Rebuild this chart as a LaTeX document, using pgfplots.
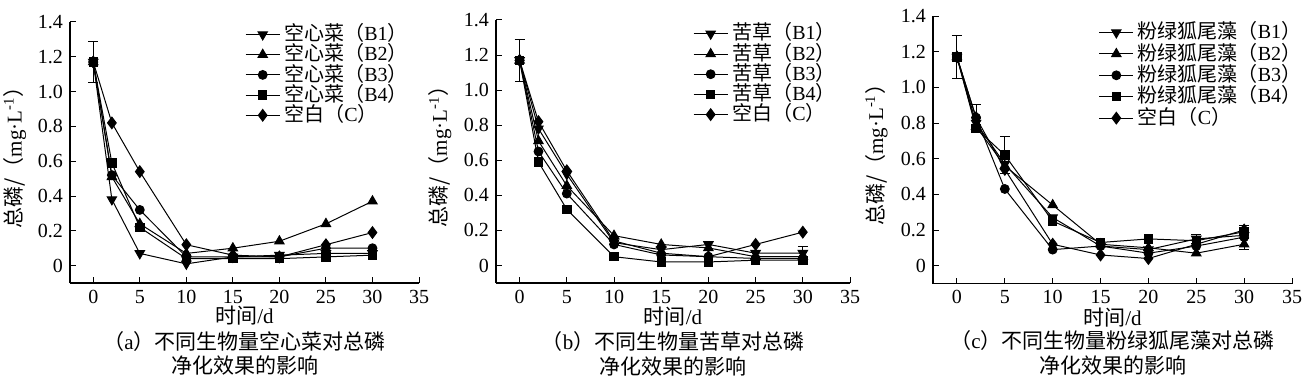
\documentclass[border=0pt]{standalone}
\usepackage{fontspec}
\setmainfont{Liberation Serif}
\newfontfamily\cjk{Noto Sans CJK SC}
\usepackage{pgfplots}
\pgfplotsset{compat=1.18}

\pgfplotsset{
  panel/.style={
    scale only axis,
    anchor=south west,
    xmin=-2.5, xmax=35, ymin=-0.1, ymax=1.4,
    axis x line*=bottom, axis y line*=left,
    axis line style={-, line width=0.6pt},
    tick align=inside,
    xtick={0,5,...,35},
    ytick={0,0.2,0.4,0.6,0.8,1,1.2,1.4},
    yticklabels={0,0.2,0.4,0.6,0.8,1.0,1.2,1.4},
    major tick length=3pt,
    tick style={black, line width=0.5pt},
    tick label style={font=\fontsize{10}{12}\selectfont},
    /pgf/number format/assume math mode=true,
    clip=false,
    legend style={draw=none, fill=none, anchor=north west,
      font=\fontsize{10}{11}\selectfont, row sep=0pt, inner sep=1pt,
      nodes={inner xsep=2pt, inner ysep=0.5pt, text height=7.6pt, text depth=1.5pt}},
    legend cell align=left,
    xlabel={{\cjk 时间}/d},
    ylabel={{\cjk 总磷/（}mg·L\textsuperscript{-1}{\cjk ）}},
    label style={font=\fontsize{10.5}{12}\selectfont},
    xlabel style={at={(axis description cs:0.5,-0.126)}, anchor=center},
    ylabel style={at={(axis description cs:-0.158,0.5)}, anchor=center},
    error bars/error bar style={black, line width=0.5pt},
    error bars/error mark options={rotate=90, mark size=2.5pt, line width=0.5pt, black},
  },
  s1/.style={black, line width=0.5pt, mark=triangle*, mark size=2.7pt, mark options={rotate=180, fill=black, solid}},
  s2/.style={black, line width=0.5pt, mark=triangle*, mark size=2.7pt, mark options={fill=black, solid}},
  s3/.style={black, line width=0.5pt, mark=*, mark size=2.2pt, mark options={fill=black, solid}},
  s4/.style={black, line width=0.5pt, mark=square*, mark size=2.1pt, mark options={fill=black, solid}},
  s5/.style={black, line width=0.5pt, mark=diamond*, mark size=2.9pt, mark options={fill=black, solid}},
}

\begin{document}
\begin{tikzpicture}
\useasboundingbox (0,0) rectangle (652.5pt,193pt);

% ---------- panel (a) ----------
\begin{axis}[panel, at={(35pt,51.5pt)}, width=174.5pt, height=130.5pt,
  legend style={at={(0.495,1.0)}}]
\addplot+[s1, error bars/.cd, y dir=both, y explicit] coordinates {(0,1.17) +- (0,0.12) (2,0.38) (5,0.07) (10,0.01) (15,0.05) (20,0.06) (25,0.07) (30,0.07)};
\addlegendentry{{\cjk 空心菜（}B1{\cjk ）}}
\addplot+[s2] coordinates {(0,1.17) (2,0.51) (5,0.24) (10,0.07) (15,0.10) (20,0.14) (25,0.24) (30,0.37)};
\addlegendentry{{\cjk 空心菜（}B2{\cjk ）}}
\addplot+[s3] coordinates {(0,1.17) (2,0.52) (5,0.32) (10,0.05) (15,0.05) (20,0.05) (25,0.10) (30,0.10)};
\addlegendentry{{\cjk 空心菜（}B3{\cjk ）}}
\addplot+[s4] coordinates {(0,1.17) (2,0.59) (5,0.22) (10,0.04) (15,0.04) (20,0.04) (25,0.05) (30,0.06)};
\addlegendentry{{\cjk 空心菜（}B4{\cjk ）}}
\addplot+[s5] coordinates {(0,1.17) (2,0.82) (5,0.54) (10,0.12) (15,0.06) (20,0.05) (25,0.12) (30,0.19)};
\addlegendentry{{\cjk 空白（}C{\cjk ）}}
\node[font=\fontsize{10.5}{12}\selectfont] at (axis description cs:0.5,-0.226) {{\cjk （}a{\cjk ）不同生物量空心菜对总磷}};
\node[font=\fontsize{10.5}{12}\selectfont] at (axis description cs:0.5,-0.318) {\cjk 净化效果的影响};
\end{axis}

% ---------- panel (b) ----------
\begin{axis}[panel, at={(248pt,51.5pt)}, width=177pt, height=131.5pt,
  legend style={at={(0.55,0.995)}}]
\addplot+[s1, error bars/.cd, y dir=both, y explicit] coordinates {(0,1.17) +- (0,0.12) (2,0.78) (5,0.52) (10,0.13) (15,0.09) (20,0.12) (25,0.07) (30,0.07) +- (0,0.04)};
\addlegendentry{{\cjk 苦草（}B1{\cjk ）}}
\addplot+[s2] coordinates {(0,1.17) (2,0.71) (5,0.455) (10,0.17) (15,0.12) (20,0.10) (25,0.05) (30,0.05)};
\addlegendentry{{\cjk 苦草（}B2{\cjk ）}}
\addplot+[s3] coordinates {(0,1.17) (2,0.65) (5,0.41) (10,0.12) (15,0.06) (20,0.05) (25,0.04) (30,0.04)};
\addlegendentry{{\cjk 苦草（}B3{\cjk ）}}
\addplot+[s4] coordinates {(0,1.17) (2,0.59) (5,0.32) (10,0.05) (15,0.02) (20,0.02) (25,0.03) (30,0.03)};
\addlegendentry{{\cjk 苦草（}B4{\cjk ）}}
\addplot+[s5] coordinates {(0,1.17) (2,0.82) (5,0.54) (10,0.14) (15,0.07) (20,0.05) (25,0.12) (30,0.19)};
\addlegendentry{{\cjk 空白（}C{\cjk ）}}
\node[font=\fontsize{10.5}{12}\selectfont] at (axis description cs:0.5,-0.224) {{\cjk （}b{\cjk ）不同生物量苦草对总磷}};
\node[font=\fontsize{10.5}{12}\selectfont] at (axis description cs:0.5,-0.316) {\cjk 净化效果的影响};
\end{axis}

% ---------- panel (c) ----------
\begin{axis}[panel, at={(466.5pt,51.25pt)}, width=179.5pt, height=133.75pt,
  legend style={at={(0.455,0.985)}, row sep=0.6pt}]
\addplot+[s1, error bars/.cd, y dir=both, y explicit] coordinates {(0,1.17) +- (0,0.12) (2,0.80) (5,0.57) (10,0.27) (15,0.11) (20,0.09) (25,0.15) +- (0,0.025) (30,0.17)};
\addlegendentry{{\cjk 粉绿狐尾藻（}B1{\cjk ）}}
\addplot+[s2, error bars/.cd, y dir=both, y explicit] coordinates {(0,1.17) (2,0.78) (5,0.56) (10,0.34) (15,0.12) (20,0.10) (25,0.07) (30,0.12) +- (0,0.03)};
\addlegendentry{{\cjk 粉绿狐尾藻（}B2{\cjk ）}}
\addplot+[s3, error bars/.cd, y dir=both, y explicit] coordinates {(0,1.17) (2,0.83) +- (0,0.075) (5,0.43) (10,0.09) (15,0.11) (20,0.07) (25,0.11) (30,0.16)};
\addlegendentry{{\cjk 粉绿狐尾藻（}B3{\cjk ）}}
\addplot+[s4, error bars/.cd, y dir=both, y explicit] coordinates {(0,1.17) (2,0.77) (5,0.62) +- (0,0.105) (10,0.25) (15,0.13) (20,0.15) (25,0.14) (30,0.19) +- (0,0.035)};
\addlegendentry{{\cjk 粉绿狐尾藻（}B4{\cjk ）}}
\addplot+[s5] coordinates {(0,1.17) (2,0.83) (5,0.54) (10,0.12) (15,0.06) (20,0.04) (25,0.12) (30,0.20)};
\addlegendentry{{\cjk 空白（}C{\cjk ）}}
\node[font=\fontsize{10.5}{12}\selectfont] at (axis description cs:0.5,-0.215) {{\cjk （}c{\cjk ）不同生物量粉绿狐尾藻对总磷}};
\node[font=\fontsize{10.5}{12}\selectfont] at (axis description cs:0.5,-0.305) {\cjk 净化效果的影响};
\end{axis}
\end{tikzpicture}
\end{document}
